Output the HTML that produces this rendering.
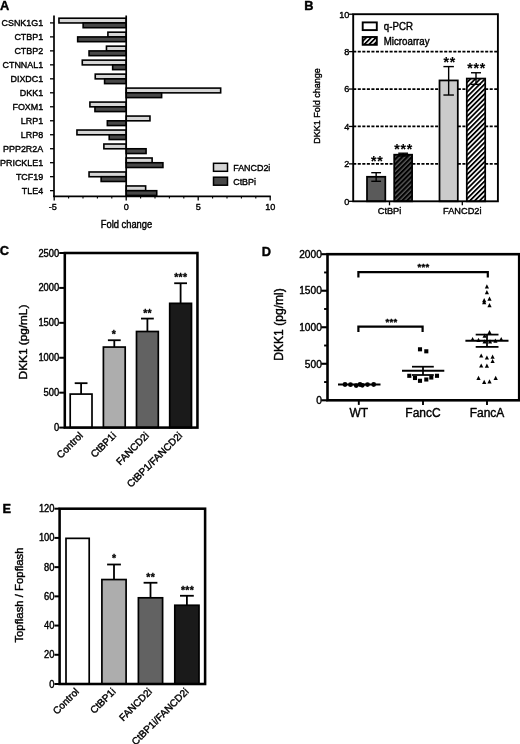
<!DOCTYPE html>
<html lang="en"><head><meta charset="utf-8"><title>Figure</title>
<style>html,body{margin:0;padding:0;background:#fff}body{width:520px;height:744px;overflow:hidden}svg{display:block;will-change:transform;-webkit-font-smoothing:antialiased}text{stroke:#000;stroke-width:.4px;stroke-linejoin:round}</style>
</head><body>
<svg width="520" height="744" viewBox="0 0 520 744" font-family='"Liberation Sans", Arial, Helvetica, sans-serif' fill="#000" stroke="none">
<defs>
<pattern id="hatchL" patternUnits="userSpaceOnUse" width="3.43" height="3.43" patternTransform="rotate(-45)"><rect width="3.43" height="3.43" fill="#fff"/><rect x="0" y="0" width="3.43" height="1.8" fill="#000"/></pattern>
<pattern id="hatchD" patternUnits="userSpaceOnUse" width="3.43" height="3.43" patternTransform="rotate(-45)"><rect width="3.43" height="3.43" fill="#5a5a5a"/><rect x="0" y="0" width="3.43" height="2.05" fill="#000"/></pattern>
</defs>
<rect width="520" height="744" fill="#fff"/>
<g id="panelA" stroke="#000">
<text transform="translate(0.10 9.50)" font-size="12.8" text-anchor="start" font-weight="bold">A</text>
<rect x="58.95" y="18.20" width="67.25" height="4.75" fill="#d6d6d6" stroke="#000" stroke-width="1.6"/>
<rect x="83.14" y="22.95" width="43.06" height="4.75" fill="#484848" stroke="#000" stroke-width="1.6"/>
<line x1="50.00" y1="22.90" x2="54.00" y2="22.90" stroke-width="1.3"/>
<text transform="translate(43.20 26.40) scale(0.93 1)" font-size="9.6" text-anchor="end">CSNK1G1</text>
<rect x="107.91" y="32.18" width="18.29" height="4.75" fill="#d6d6d6" stroke="#000" stroke-width="1.6"/>
<rect x="77.67" y="36.93" width="48.53" height="4.75" fill="#484848" stroke="#000" stroke-width="1.6"/>
<line x1="50.00" y1="36.88" x2="54.00" y2="36.88" stroke-width="1.3"/>
<text transform="translate(43.20 40.38) scale(0.93 1)" font-size="9.6" text-anchor="end">CTBP1</text>
<rect x="106.47" y="46.16" width="19.73" height="4.75" fill="#d6d6d6" stroke="#000" stroke-width="1.6"/>
<rect x="89.05" y="50.91" width="37.15" height="4.75" fill="#484848" stroke="#000" stroke-width="1.6"/>
<line x1="50.00" y1="50.86" x2="54.00" y2="50.86" stroke-width="1.3"/>
<text transform="translate(43.20 54.36) scale(0.93 1)" font-size="9.6" text-anchor="end">CTBP2</text>
<rect x="82.28" y="60.14" width="43.92" height="4.75" fill="#d6d6d6" stroke="#000" stroke-width="1.6"/>
<rect x="112.66" y="64.89" width="13.54" height="4.75" fill="#484848" stroke="#000" stroke-width="1.6"/>
<line x1="50.00" y1="64.84" x2="54.00" y2="64.84" stroke-width="1.3"/>
<text transform="translate(43.20 68.34) scale(0.93 1)" font-size="9.6" text-anchor="end">CTNNAL1</text>
<rect x="95.24" y="74.12" width="30.96" height="4.75" fill="#d6d6d6" stroke="#000" stroke-width="1.6"/>
<rect x="104.60" y="78.87" width="21.60" height="4.75" fill="#484848" stroke="#000" stroke-width="1.6"/>
<line x1="50.00" y1="78.82" x2="54.00" y2="78.82" stroke-width="1.3"/>
<text transform="translate(43.20 82.32) scale(0.93 1)" font-size="9.6" text-anchor="end">DIXDC1</text>
<rect x="126.20" y="88.10" width="94.46" height="4.75" fill="#d6d6d6" stroke="#000" stroke-width="1.6"/>
<rect x="126.20" y="92.85" width="35.42" height="4.75" fill="#484848" stroke="#000" stroke-width="1.6"/>
<line x1="50.00" y1="92.80" x2="54.00" y2="92.80" stroke-width="1.3"/>
<text transform="translate(43.20 96.30) scale(0.93 1)" font-size="9.6" text-anchor="end">DKK1</text>
<rect x="89.91" y="102.08" width="36.29" height="4.75" fill="#d6d6d6" stroke="#000" stroke-width="1.6"/>
<rect x="94.95" y="106.83" width="31.25" height="4.75" fill="#484848" stroke="#000" stroke-width="1.6"/>
<line x1="50.00" y1="106.78" x2="54.00" y2="106.78" stroke-width="1.3"/>
<text transform="translate(43.20 110.28) scale(0.93 1)" font-size="9.6" text-anchor="end">FOXM1</text>
<rect x="126.20" y="116.06" width="23.76" height="4.75" fill="#d6d6d6" stroke="#000" stroke-width="1.6"/>
<rect x="107.34" y="120.81" width="18.86" height="4.75" fill="#484848" stroke="#000" stroke-width="1.6"/>
<line x1="50.00" y1="120.76" x2="54.00" y2="120.76" stroke-width="1.3"/>
<text transform="translate(43.20 124.26) scale(0.93 1)" font-size="9.6" text-anchor="end">LRP1</text>
<rect x="76.95" y="130.04" width="49.25" height="4.75" fill="#d6d6d6" stroke="#000" stroke-width="1.6"/>
<rect x="109.21" y="134.79" width="16.99" height="4.75" fill="#484848" stroke="#000" stroke-width="1.6"/>
<line x1="50.00" y1="134.74" x2="54.00" y2="134.74" stroke-width="1.3"/>
<text transform="translate(43.20 138.24) scale(0.93 1)" font-size="9.6" text-anchor="end">LRP8</text>
<rect x="103.88" y="144.02" width="22.32" height="4.75" fill="#d6d6d6" stroke="#000" stroke-width="1.6"/>
<rect x="126.20" y="148.77" width="19.87" height="4.75" fill="#484848" stroke="#000" stroke-width="1.6"/>
<line x1="50.00" y1="148.72" x2="54.00" y2="148.72" stroke-width="1.3"/>
<text transform="translate(43.20 152.22) scale(0.93 1)" font-size="9.6" text-anchor="end">PPP2R2A</text>
<rect x="126.20" y="158.00" width="25.92" height="4.75" fill="#d6d6d6" stroke="#000" stroke-width="1.6"/>
<rect x="126.20" y="162.75" width="36.72" height="4.75" fill="#484848" stroke="#000" stroke-width="1.6"/>
<line x1="50.00" y1="162.70" x2="54.00" y2="162.70" stroke-width="1.3"/>
<text transform="translate(43.20 166.20) scale(0.93 1)" font-size="9.6" text-anchor="end">PRICKLE1</text>
<rect x="89.05" y="171.98" width="37.15" height="4.75" fill="#d6d6d6" stroke="#000" stroke-width="1.6"/>
<rect x="101.14" y="176.73" width="25.06" height="4.75" fill="#484848" stroke="#000" stroke-width="1.6"/>
<line x1="50.00" y1="176.68" x2="54.00" y2="176.68" stroke-width="1.3"/>
<text transform="translate(43.20 180.18) scale(0.93 1)" font-size="9.6" text-anchor="end">TCF19</text>
<rect x="126.20" y="185.96" width="19.44" height="4.75" fill="#d6d6d6" stroke="#000" stroke-width="1.6"/>
<rect x="126.20" y="190.71" width="30.53" height="4.75" fill="#484848" stroke="#000" stroke-width="1.6"/>
<line x1="50.00" y1="190.66" x2="54.00" y2="190.66" stroke-width="1.3"/>
<text transform="translate(43.20 194.16) scale(0.93 1)" font-size="9.6" text-anchor="end">TLE4</text>
<line x1="54.00" y1="15.50" x2="54.00" y2="197.10" stroke-width="1.7"/>
<line x1="126.20" y1="15.50" x2="126.20" y2="196.30" stroke-width="1.7"/>
<line x1="53.20" y1="196.30" x2="270.80" y2="196.30" stroke-width="1.8"/>
<line x1="54.20" y1="196.30" x2="54.20" y2="200.50" stroke-width="1.3"/>
<line x1="68.60" y1="196.30" x2="68.60" y2="198.60" stroke-width="1.1"/>
<line x1="83.00" y1="196.30" x2="83.00" y2="198.60" stroke-width="1.1"/>
<line x1="97.40" y1="196.30" x2="97.40" y2="198.60" stroke-width="1.1"/>
<line x1="111.80" y1="196.30" x2="111.80" y2="198.60" stroke-width="1.1"/>
<line x1="126.20" y1="196.30" x2="126.20" y2="200.50" stroke-width="1.3"/>
<line x1="140.60" y1="196.30" x2="140.60" y2="198.60" stroke-width="1.1"/>
<line x1="155.00" y1="196.30" x2="155.00" y2="198.60" stroke-width="1.1"/>
<line x1="169.40" y1="196.30" x2="169.40" y2="198.60" stroke-width="1.1"/>
<line x1="183.80" y1="196.30" x2="183.80" y2="198.60" stroke-width="1.1"/>
<line x1="198.20" y1="196.30" x2="198.20" y2="200.50" stroke-width="1.3"/>
<line x1="212.60" y1="196.30" x2="212.60" y2="198.60" stroke-width="1.1"/>
<line x1="227.00" y1="196.30" x2="227.00" y2="198.60" stroke-width="1.1"/>
<line x1="241.40" y1="196.30" x2="241.40" y2="198.60" stroke-width="1.1"/>
<line x1="255.80" y1="196.30" x2="255.80" y2="198.60" stroke-width="1.1"/>
<line x1="270.20" y1="196.30" x2="270.20" y2="200.50" stroke-width="1.3"/>
<text transform="translate(52.70 209.60) scale(0.95 1)" font-size="9.6" text-anchor="middle">-5</text>
<text transform="translate(126.20 209.60) scale(0.95 1)" font-size="9.6" text-anchor="middle">0</text>
<text transform="translate(198.20 209.60) scale(0.95 1)" font-size="9.6" text-anchor="middle">5</text>
<text transform="translate(270.20 209.60) scale(0.95 1)" font-size="9.6" text-anchor="middle">10</text>
<text transform="translate(126.50 227.80) scale(0.915 1)" font-size="10.2" text-anchor="middle">Fold change</text>
<rect x="213.50" y="163.30" width="14.00" height="8.00" fill="#d6d6d6" stroke="#000" stroke-width="1.5"/>
<rect x="213.50" y="177.20" width="14.00" height="8.00" fill="#484848" stroke="#000" stroke-width="1.5"/>
<text transform="translate(233.20 171.00) scale(0.91 1)" font-size="9.8" text-anchor="start">FANCD2i</text>
<text transform="translate(233.20 185.00) scale(0.91 1)" font-size="9.8" text-anchor="start">CtBPi</text>
</g>
<g id="panelB" stroke="#000">
<text transform="translate(304.20 9.60)" font-size="12.8" text-anchor="start" font-weight="bold">B</text>
<line x1="353.20" y1="163.88" x2="497.90" y2="163.88" stroke-width="1.75" stroke-dasharray="3.05 1.5"/>
<line x1="353.20" y1="126.46" x2="497.90" y2="126.46" stroke-width="1.75" stroke-dasharray="3.05 1.5"/>
<line x1="353.20" y1="89.04" x2="497.90" y2="89.04" stroke-width="1.75" stroke-dasharray="3.05 1.5"/>
<line x1="353.20" y1="51.62" x2="497.90" y2="51.62" stroke-width="1.75" stroke-dasharray="3.05 1.5"/>
<rect x="367.00" y="176.79" width="18.30" height="24.51" fill="#5a5a5a" stroke="#000" stroke-width="1.75"/>
<line x1="376.15" y1="172.67" x2="376.15" y2="181.28" stroke-width="1.4"/>
<line x1="371.25" y1="172.67" x2="381.05" y2="172.67" stroke-width="1.4"/>
<line x1="371.25" y1="181.28" x2="381.05" y2="181.28" stroke-width="1.4"/>
<rect x="394.20" y="154.71" width="17.90" height="46.59" fill="url(#hatchD)" stroke="#000" stroke-width="1.75"/>
<line x1="403.15" y1="153.22" x2="403.15" y2="156.02" stroke-width="1.4"/>
<line x1="398.25" y1="153.22" x2="408.05" y2="153.22" stroke-width="1.4"/>
<line x1="398.25" y1="156.02" x2="408.05" y2="156.02" stroke-width="1.4"/>
<rect x="439.50" y="80.43" width="18.30" height="120.87" fill="#cbcbcb" stroke="#000" stroke-width="1.75"/>
<line x1="448.65" y1="66.59" x2="448.65" y2="95.03" stroke-width="1.4"/>
<line x1="443.40" y1="66.59" x2="453.90" y2="66.59" stroke-width="1.4"/>
<line x1="443.40" y1="95.03" x2="453.90" y2="95.03" stroke-width="1.4"/>
<rect x="466.80" y="78.56" width="18.40" height="122.74" fill="url(#hatchL)" stroke="#000" stroke-width="1.75"/>
<line x1="476.00" y1="72.76" x2="476.00" y2="84.36" stroke-width="1.4"/>
<line x1="471.00" y1="72.76" x2="481.00" y2="72.76" stroke-width="1.4"/>
<line x1="471.00" y1="84.36" x2="481.00" y2="84.36" stroke-width="1.4"/>
<rect x="353.2" y="14.2" width="144.7" height="187.10000000000002" fill="none" stroke-width="1.9"/>
<line x1="349.00" y1="201.30" x2="353.20" y2="201.30" stroke-width="1.3"/>
<text transform="translate(349.40 204.60) scale(0.93 1)" font-size="9.8" text-anchor="end">0</text>
<line x1="349.00" y1="163.88" x2="353.20" y2="163.88" stroke-width="1.3"/>
<text transform="translate(349.40 167.18) scale(0.93 1)" font-size="9.8" text-anchor="end">2</text>
<line x1="349.00" y1="126.46" x2="353.20" y2="126.46" stroke-width="1.3"/>
<text transform="translate(349.40 129.76) scale(0.93 1)" font-size="9.8" text-anchor="end">4</text>
<line x1="349.00" y1="89.04" x2="353.20" y2="89.04" stroke-width="1.3"/>
<text transform="translate(349.40 92.34) scale(0.93 1)" font-size="9.8" text-anchor="end">6</text>
<line x1="349.00" y1="51.62" x2="353.20" y2="51.62" stroke-width="1.3"/>
<text transform="translate(349.40 54.92) scale(0.93 1)" font-size="9.8" text-anchor="end">8</text>
<line x1="349.00" y1="14.20" x2="353.20" y2="14.20" stroke-width="1.3"/>
<text transform="translate(349.40 17.50) scale(0.93 1)" font-size="9.8" text-anchor="end">10</text>
<line x1="389.50" y1="201.30" x2="389.50" y2="205.30" stroke-width="1.3"/>
<text transform="translate(389.50 214.20) scale(0.95 1)" font-size="9.7" text-anchor="middle">CtBPi</text>
<line x1="462.30" y1="201.30" x2="462.30" y2="205.30" stroke-width="1.3"/>
<text transform="translate(462.30 214.20) scale(0.95 1)" font-size="9.7" text-anchor="middle">FANCD2i</text>
<text transform="translate(319.90 106.00) rotate(-90) scale(0.93 1)" font-size="9.7" text-anchor="middle">DKK1 Fold change</text>
<rect x="362.70" y="22.40" width="14.10" height="7.70" fill="#fff" stroke="#000" stroke-width="1.9"/>
<rect x="362.70" y="37.00" width="14.10" height="7.80" fill="url(#hatchL)" stroke="#000" stroke-width="1.9"/>
<text transform="translate(383.80 30.30) scale(0.97 1)" font-size="10" text-anchor="start">q-PCR</text>
<text transform="translate(383.80 45.00) scale(0.97 1)" font-size="10" text-anchor="start">Microarray</text>
<text transform="translate(377.25 165.80)" font-size="14" text-anchor="middle" font-weight="bold" letter-spacing="0.9" style="stroke-width:0.1px">**</text>
<text transform="translate(403.65 154.00)" font-size="14" text-anchor="middle" font-weight="bold" letter-spacing="0.9" style="stroke-width:0.1px">***</text>
<text transform="translate(449.75 67.40)" font-size="14" text-anchor="middle" font-weight="bold" letter-spacing="0.9" style="stroke-width:0.1px">**</text>
<text transform="translate(476.65 73.30)" font-size="14" text-anchor="middle" font-weight="bold" letter-spacing="0.9" style="stroke-width:0.1px">***</text>
</g>
<g id="panelC" stroke="#000">
<text transform="translate(-0.20 255.40)" font-size="12.8" text-anchor="start" font-weight="bold">C</text>
<line x1="81.10" y1="383.18" x2="81.10" y2="394.08" stroke-width="1.8"/>
<line x1="74.70" y1="383.18" x2="87.50" y2="383.18" stroke-width="1.8"/>
<rect x="70.20" y="394.08" width="21.80" height="33.52" fill="#fff" stroke="#000" stroke-width="1.7"/>
<line x1="114.30" y1="340.23" x2="114.30" y2="347.07" stroke-width="1.8"/>
<line x1="107.90" y1="340.23" x2="120.70" y2="340.23" stroke-width="1.8"/>
<rect x="103.40" y="347.07" width="21.80" height="80.53" fill="#adadad" stroke="#000" stroke-width="1.7"/>
<line x1="147.40" y1="318.58" x2="147.40" y2="331.50" stroke-width="1.8"/>
<line x1="141.00" y1="318.58" x2="153.80" y2="318.58" stroke-width="1.8"/>
<rect x="136.50" y="331.50" width="21.80" height="96.10" fill="#626262" stroke="#000" stroke-width="1.7"/>
<line x1="180.60" y1="283.24" x2="180.60" y2="303.35" stroke-width="1.8"/>
<line x1="174.20" y1="283.24" x2="187.00" y2="283.24" stroke-width="1.8"/>
<rect x="169.70" y="303.35" width="21.80" height="124.25" fill="#1a1a1a" stroke="#000" stroke-width="1.7"/>
<rect x="64.8" y="253" width="132.64999999999998" height="174.60000000000002" fill="none" stroke-width="2.55"/>
<line x1="59.20" y1="427.60" x2="64.80" y2="427.60" stroke-width="2.0"/>
<text transform="translate(59.20 431.15) scale(0.935 1)" font-size="10" text-anchor="end">0</text>
<line x1="59.20" y1="392.68" x2="64.80" y2="392.68" stroke-width="2.0"/>
<text transform="translate(59.20 396.23) scale(0.935 1)" font-size="10" text-anchor="end">500</text>
<line x1="59.20" y1="357.76" x2="64.80" y2="357.76" stroke-width="2.0"/>
<text transform="translate(59.20 361.31) scale(0.935 1)" font-size="10" text-anchor="end">1000</text>
<line x1="59.20" y1="322.84" x2="64.80" y2="322.84" stroke-width="2.0"/>
<text transform="translate(59.20 326.39) scale(0.935 1)" font-size="10" text-anchor="end">1500</text>
<line x1="59.20" y1="287.92" x2="64.80" y2="287.92" stroke-width="2.0"/>
<text transform="translate(59.20 291.47) scale(0.935 1)" font-size="10" text-anchor="end">2000</text>
<line x1="59.20" y1="253.00" x2="64.80" y2="253.00" stroke-width="2.0"/>
<text transform="translate(59.20 256.55) scale(0.935 1)" font-size="10" text-anchor="end">2500</text>
<text transform="translate(26.60 342.00) rotate(-90)" font-size="11.8" text-anchor="middle">DKK1 (pg/mL)</text>
<text transform="translate(83.60 436.20) rotate(-45)" font-size="10" text-anchor="end">Control</text>
<text transform="translate(116.70 436.20) rotate(-45)" font-size="10" text-anchor="end">CtBP1i</text>
<text transform="translate(149.70 436.20) rotate(-45)" font-size="10" text-anchor="end">FANCD2i</text>
<text transform="translate(182.90 436.20) rotate(-45)" font-size="10" text-anchor="end">CtBP1/FANCD2i</text>
<text transform="translate(114.05 338.45)" font-size="10.5" text-anchor="middle" font-weight="bold" letter-spacing="0.3" style="stroke-width:0.3px">*</text>
<text transform="translate(147.55 316.55)" font-size="10.5" text-anchor="middle" font-weight="bold" letter-spacing="0.3" style="stroke-width:0.3px">**</text>
<text transform="translate(180.75 281.15)" font-size="10.5" text-anchor="middle" font-weight="bold" letter-spacing="0.3" style="stroke-width:0.3px">***</text>
</g>
<g id="panelD" stroke="#000">
<text transform="translate(261.80 255.80)" font-size="12.8" text-anchor="start" font-weight="bold">D</text>
<rect x="327.5" y="254.2" width="191.70000000000005" height="146.10000000000002" fill="none" stroke-width="2.6"/>
<line x1="321.20" y1="400.30" x2="327.50" y2="400.30" stroke-width="2.1"/>
<text transform="translate(321.80 404.05) scale(0.96 1)" font-size="10.6" text-anchor="end">0</text>
<line x1="324.10" y1="382.04" x2="327.50" y2="382.04" stroke-width="1.9"/>
<line x1="321.20" y1="363.77" x2="327.50" y2="363.77" stroke-width="2.1"/>
<text transform="translate(321.80 367.52) scale(0.96 1)" font-size="10.6" text-anchor="end">500</text>
<line x1="324.10" y1="345.51" x2="327.50" y2="345.51" stroke-width="1.9"/>
<line x1="321.20" y1="327.25" x2="327.50" y2="327.25" stroke-width="2.1"/>
<text transform="translate(321.80 331.00) scale(0.96 1)" font-size="10.6" text-anchor="end">1000</text>
<line x1="324.10" y1="308.99" x2="327.50" y2="308.99" stroke-width="1.9"/>
<line x1="321.20" y1="290.73" x2="327.50" y2="290.73" stroke-width="2.1"/>
<text transform="translate(321.80 294.48) scale(0.96 1)" font-size="10.6" text-anchor="end">1500</text>
<line x1="324.10" y1="272.46" x2="327.50" y2="272.46" stroke-width="1.9"/>
<line x1="321.20" y1="254.20" x2="327.50" y2="254.20" stroke-width="2.1"/>
<text transform="translate(321.80 257.95) scale(0.96 1)" font-size="10.6" text-anchor="end">2000</text>
<text transform="translate(283.20 324.50) rotate(-90)" font-size="12.1" text-anchor="middle">DKK1 (pg/ml)</text>
<line x1="358.80" y1="400.30" x2="358.80" y2="404.90" stroke-width="1.9"/>
<text transform="translate(358.80 416.80)" font-size="12" text-anchor="middle">WT</text>
<line x1="423.00" y1="400.30" x2="423.00" y2="404.90" stroke-width="1.9"/>
<text transform="translate(423.00 416.80)" font-size="12" text-anchor="middle">FancC</text>
<line x1="487.00" y1="400.30" x2="487.00" y2="404.90" stroke-width="1.9"/>
<text transform="translate(487.00 416.80)" font-size="12" text-anchor="middle">FancA</text>
<path d="M358.40 277.40V272.20H487.80V277.40" fill="none" stroke-width="2.2"/>
<path d="M358.40 331.90V326.70H422.60V331.90" fill="none" stroke-width="2.2"/>
<text transform="translate(423.45 270.05)" font-size="9.5" text-anchor="middle" font-weight="bold" letter-spacing="0.3" style="stroke-width:0.35px">***</text>
<text transform="translate(391.45 324.95)" font-size="9.5" text-anchor="middle" font-weight="bold" letter-spacing="0.3" style="stroke-width:0.35px">***</text>
<line x1="338.00" y1="384.50" x2="380.50" y2="384.50" stroke-width="1.9"/>
<circle cx="345" cy="384.5" r="2.4" stroke="none"/>
<circle cx="350.5" cy="384.7" r="2.4" stroke="none"/>
<circle cx="356.2" cy="385.6" r="2.4" stroke="none"/>
<circle cx="360" cy="384.5" r="2.4" stroke="none"/>
<circle cx="362.3" cy="385.3" r="2.4" stroke="none"/>
<circle cx="367.5" cy="384.6" r="2.4" stroke="none"/>
<circle cx="373.7" cy="384.5" r="2.4" stroke="none"/>
<line x1="402.00" y1="370.80" x2="444.30" y2="370.80" stroke-width="1.9"/>
<line x1="412.00" y1="366.70" x2="433.80" y2="366.70" stroke-width="1.75"/>
<line x1="412.00" y1="375.00" x2="433.80" y2="375.00" stroke-width="1.75"/>
<line x1="423.00" y1="366.70" x2="423.00" y2="375.00" stroke-width="1.75"/>
<rect x="417.95" y="347.25" width="4.1" height="4.1" stroke="none"/>
<rect x="424.25" y="349.25" width="4.1" height="4.1" stroke="none"/>
<rect x="407.25" y="373.75" width="4.1" height="4.1" stroke="none"/>
<rect x="412.95" y="375.95" width="4.1" height="4.1" stroke="none"/>
<rect x="417.95" y="378.75" width="4.1" height="4.1" stroke="none"/>
<rect x="424.25" y="377.45" width="4.1" height="4.1" stroke="none"/>
<rect x="429.25" y="375.45" width="4.1" height="4.1" stroke="none"/>
<rect x="434.95" y="373.75" width="4.1" height="4.1" stroke="none"/>
<line x1="465.40" y1="340.80" x2="508.50" y2="340.80" stroke-width="1.9"/>
<line x1="475.70" y1="334.60" x2="498.50" y2="334.60" stroke-width="1.75"/>
<line x1="475.70" y1="346.90" x2="498.50" y2="346.90" stroke-width="1.75"/>
<line x1="487.00" y1="334.60" x2="487.00" y2="346.90" stroke-width="1.75"/>
<path d="M486.9 284.2L489.0 288.4H484.8Z" stroke="none"/>
<path d="M486.9 290.0L489.0 294.2H484.8Z" stroke="none"/>
<path d="M489.5 296.5L491.6 300.7H487.4Z" stroke="none"/>
<path d="M484.2 298.0L486.3 302.2H482.1Z" stroke="none"/>
<path d="M484.2 300.0L486.3 304.2H482.1Z" stroke="none"/>
<path d="M489.5 303.1L491.6 307.3H487.4Z" stroke="none"/>
<path d="M489.5 330.0L491.6 334.2H487.4Z" stroke="none"/>
<path d="M484.6 333.5L486.7 337.7H482.5Z" stroke="none"/>
<path d="M472.6 336.9L474.7 341.1H470.5Z" stroke="none"/>
<path d="M478.5 337.7L480.6 341.9H476.4Z" stroke="none"/>
<path d="M484.6 339.2L486.7 343.4H482.5Z" stroke="none"/>
<path d="M490.0 339.2L492.1 343.4H487.9Z" stroke="none"/>
<path d="M495.4 338.5L497.5 342.7H493.3Z" stroke="none"/>
<path d="M501.2 336.9L503.3 341.1H499.1Z" stroke="none"/>
<path d="M481.2 353.4L483.3 357.6H479.1Z" stroke="none"/>
<path d="M486.9 355.4L489.0 359.6H484.8Z" stroke="none"/>
<path d="M492.6 354.6L494.7 358.8H490.5Z" stroke="none"/>
<path d="M492.6 358.9L494.7 363.1H490.5Z" stroke="none"/>
<path d="M481.2 363.4L483.3 367.6H479.1Z" stroke="none"/>
<path d="M486.9 363.5L489.0 367.7H484.8Z" stroke="none"/>
<path d="M478.5 375.7L480.6 379.9H476.4Z" stroke="none"/>
<path d="M495.7 375.7L497.8 379.9H493.6Z" stroke="none"/>
<path d="M484.2 379.7L486.3 383.9H482.1Z" stroke="none"/>
<path d="M489.5 379.2L491.6 383.4H487.4Z" stroke="none"/>
</g>
<g id="panelE" stroke="#000">
<text transform="translate(2.60 512.80)" font-size="12.8" text-anchor="start" font-weight="bold">E</text>
<rect x="66.00" y="538.35" width="23.20" height="145.65" fill="#fff" stroke="#000" stroke-width="1.7"/>
<line x1="114.00" y1="564.50" x2="114.00" y2="579.55" stroke-width="1.8"/>
<line x1="107.10" y1="564.50" x2="120.90" y2="564.50" stroke-width="1.8"/>
<rect x="101.90" y="579.55" width="24.20" height="104.45" fill="#adadad" stroke="#000" stroke-width="1.7"/>
<line x1="150.50" y1="582.76" x2="150.50" y2="597.81" stroke-width="1.8"/>
<line x1="143.60" y1="582.76" x2="157.40" y2="582.76" stroke-width="1.8"/>
<rect x="138.40" y="597.81" width="24.20" height="86.19" fill="#626262" stroke="#000" stroke-width="1.7"/>
<line x1="186.90" y1="595.77" x2="186.90" y2="605.26" stroke-width="1.8"/>
<line x1="180.00" y1="595.77" x2="193.80" y2="595.77" stroke-width="1.8"/>
<rect x="174.80" y="605.26" width="24.20" height="78.74" fill="#1a1a1a" stroke="#000" stroke-width="1.7"/>
<rect x="59.6" y="508.7" width="145.5" height="175.3" fill="none" stroke-width="2.55"/>
<line x1="54.40" y1="684.00" x2="59.60" y2="684.00" stroke-width="2.0"/>
<text transform="translate(54.50 687.55) scale(0.935 1)" font-size="10" text-anchor="end">0</text>
<line x1="54.40" y1="654.78" x2="59.60" y2="654.78" stroke-width="2.0"/>
<text transform="translate(54.50 658.33) scale(0.935 1)" font-size="10" text-anchor="end">20</text>
<line x1="54.40" y1="625.57" x2="59.60" y2="625.57" stroke-width="2.0"/>
<text transform="translate(54.50 629.12) scale(0.935 1)" font-size="10" text-anchor="end">40</text>
<line x1="54.40" y1="596.35" x2="59.60" y2="596.35" stroke-width="2.0"/>
<text transform="translate(54.50 599.90) scale(0.935 1)" font-size="10" text-anchor="end">60</text>
<line x1="54.40" y1="567.13" x2="59.60" y2="567.13" stroke-width="2.0"/>
<text transform="translate(54.50 570.68) scale(0.935 1)" font-size="10" text-anchor="end">80</text>
<line x1="54.40" y1="537.92" x2="59.60" y2="537.92" stroke-width="2.0"/>
<text transform="translate(54.50 541.47) scale(0.935 1)" font-size="10" text-anchor="end">100</text>
<line x1="54.40" y1="508.70" x2="59.60" y2="508.70" stroke-width="2.0"/>
<text transform="translate(54.50 512.25) scale(0.935 1)" font-size="10" text-anchor="end">120</text>
<text transform="translate(22.90 595.00) rotate(-90)" font-size="11.35" text-anchor="middle">Topflash / Fopflash</text>
<text transform="translate(79.70 692.20) rotate(-45)" font-size="10" text-anchor="end">Control</text>
<text transform="translate(116.20 692.20) rotate(-45)" font-size="10" text-anchor="end">CtBP1i</text>
<text transform="translate(152.70 692.20) rotate(-45)" font-size="10" text-anchor="end">FANCD2i</text>
<text transform="translate(189.20 692.20) rotate(-45)" font-size="10" text-anchor="end">CtBP1i/FANCD2i</text>
<text transform="translate(114.25 561.75)" font-size="10.5" text-anchor="middle" font-weight="bold" letter-spacing="0.3" style="stroke-width:0.3px">*</text>
<text transform="translate(150.65 580.65)" font-size="10.5" text-anchor="middle" font-weight="bold" letter-spacing="0.3" style="stroke-width:0.3px">**</text>
<text transform="translate(187.55 593.95)" font-size="10.5" text-anchor="middle" font-weight="bold" letter-spacing="0.3" style="stroke-width:0.3px">***</text>
</g>
</svg>
</body></html>
